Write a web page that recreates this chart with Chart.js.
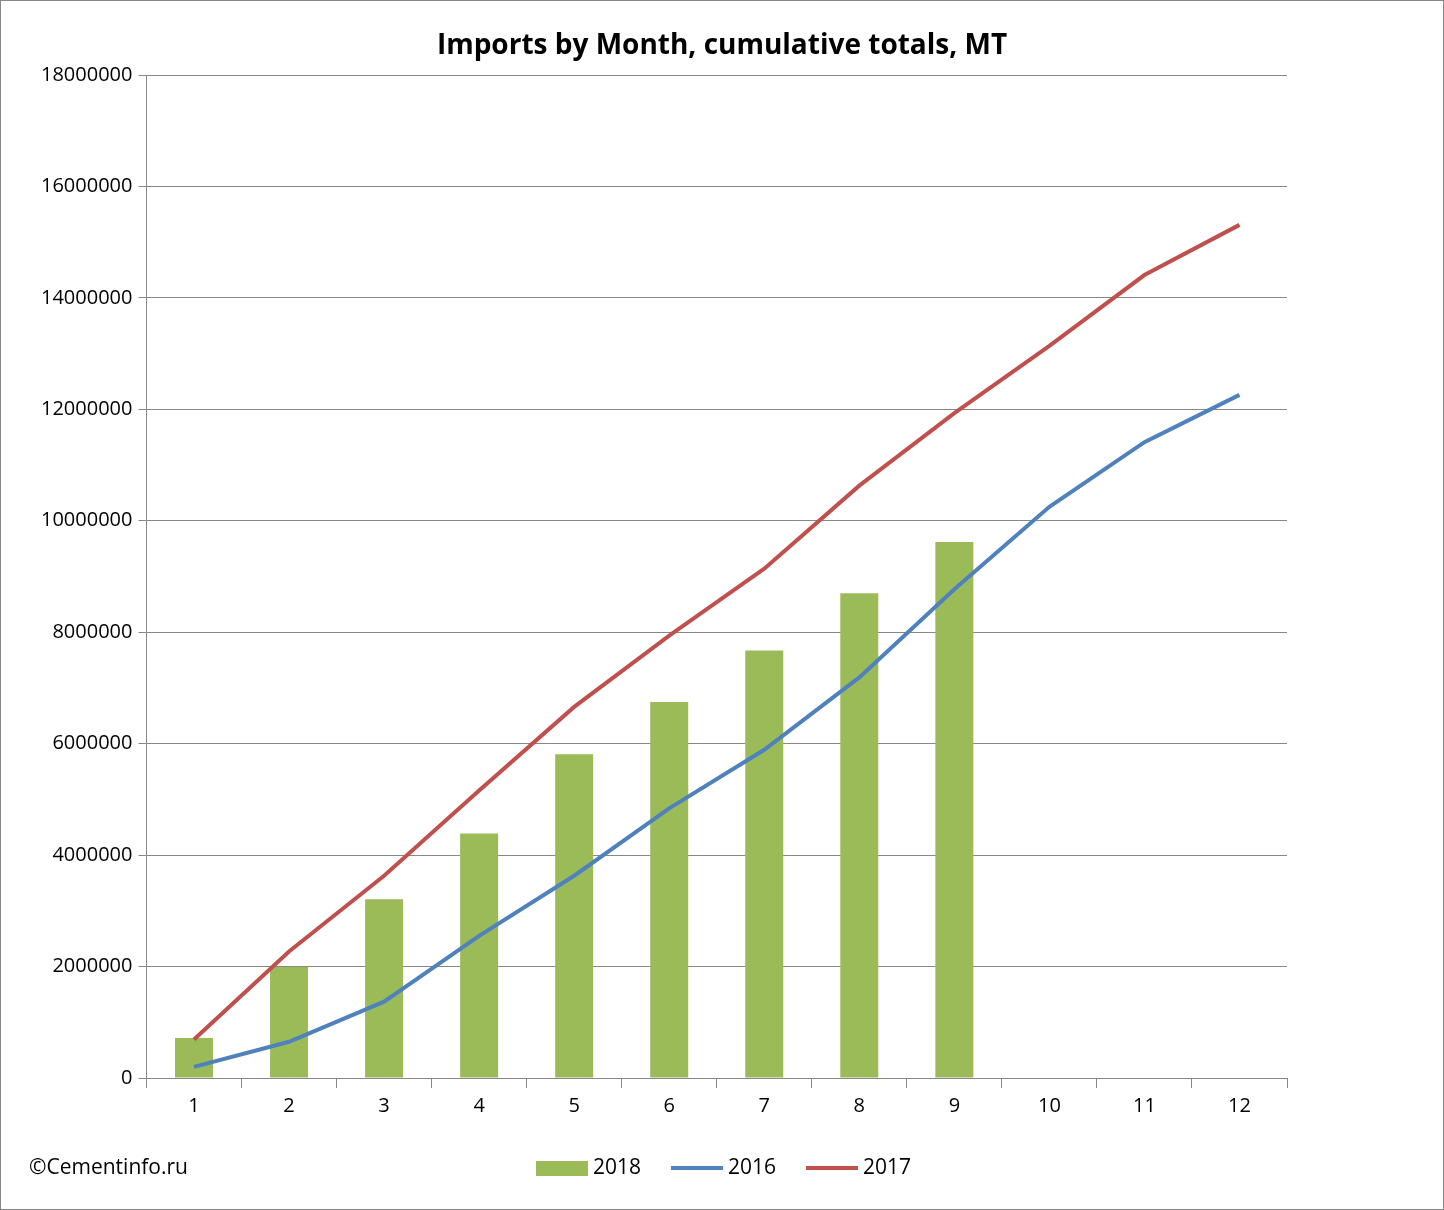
<!DOCTYPE html>
<html><head><meta charset="utf-8">
<script src="https://cdn.jsdelivr.net/npm/chart.js@4"></script>
<style>
html,body{margin:0;padding:0;background:#fff;}
#wrap{position:absolute;left:0;top:0;width:1442px;height:1208px;border:1px solid #888;}
</style></head>
<body><div id="wrap"><canvas id="c"></canvas></div>
<script>
const months = ['1','2','3','4','5','6','7','8','9','10','11','12'];
const imports2018 = [720000,1990000,3210000,4390000,5810000,6750000,7670000,8700000,9620000,null,null,null];
const imports2016 = [200000,650000,1370000,2550000,3630000,4840000,5890000,7190000,8770000,10250000,11410000,12260000];
const imports2017 = [690000,2270000,3630000,5160000,6660000,7940000,9140000,10630000,11930000,13140000,14410000,15310000];
const yTicks = [0,2000000,4000000,6000000,8000000,10000000,12000000,14000000,16000000,18000000];

const font = "'Open Sans', 'Liberation Sans', sans-serif";
const extras = {
  id:'extras',
  afterDraw(chart){
    const ctx = chart.ctx;
    ctx.save();
    ctx.fillStyle = '#000';
    ctx.textBaseline = 'middle';
    ctx.textAlign = 'center';
    ctx.font = "bold 28px " + font;
    ctx.fillText('Imports by Month, cumulative totals, MT', 721, 45);
    ctx.textAlign = 'left';
    ctx.font = "21px " + font;
    ctx.fillText('©Cementinfo.ru', 28, 1167);
    const ds = chart.data.datasets;
    let x = 535;
    ds.forEach((d,i)=>{
      if(i===0){ ctx.fillStyle = d.backgroundColor; ctx.fillRect(x, 1160, 52, 15); }
      else { ctx.strokeStyle = d.borderColor; ctx.lineWidth = 4; ctx.beginPath(); ctx.moveTo(x, 1167); ctx.lineTo(x+52, 1167); ctx.stroke(); }
      ctx.fillStyle = '#000';
      ctx.fillText(d.label, x+57, 1167);
      x += 135;
    });
    ctx.restore();
  }
};
new Chart(document.getElementById('c'), {
  data: {
    labels: months,
    datasets: [
      {type:'bar', label:'2018', data:imports2018, backgroundColor:'#9bbb59', barPercentage:0.4, categoryPercentage:1, order:3},
      {type:'line', label:'2016', data:imports2016, borderColor:'#4f81bd', backgroundColor:'#4f81bd', borderWidth:4, pointRadius:0, tension:0, order:2},
      {type:'line', label:'2017', data:imports2017, borderColor:'#c0504d', backgroundColor:'#c0504d', borderWidth:4, pointRadius:0, tension:0, order:1}
    ]
  },
  options: {
    responsive:true, maintainAspectRatio:false, animation:false,
    devicePixelRatio:1,
    layout:{padding:{left:34, right:156, top:74, bottom:85}},
    plugins:{ title:{display:false}, legend:{display:false}, tooltip:{enabled:false} },
    scales:{
      x:{grid:{display:true, drawOnChartArea:false, offset:true, color:'#888', tickLength:10}, border:{color:'#888'},
         ticks:{font:{family:font, size:20}, color:'#000', padding:6}},
      y:{min:0, max:18000000, afterBuildTicks(a){a.ticks = yTicks.map(v=>({value:v}));},
         grid:{color:'#888', tickLength:8}, border:{color:'#888'},
         ticks:{font:{family:font, size:20}, color:'#000', padding:6, callback:v=>String(v)}}
    }
  },
  plugins:[extras]
});
</script></body></html>
